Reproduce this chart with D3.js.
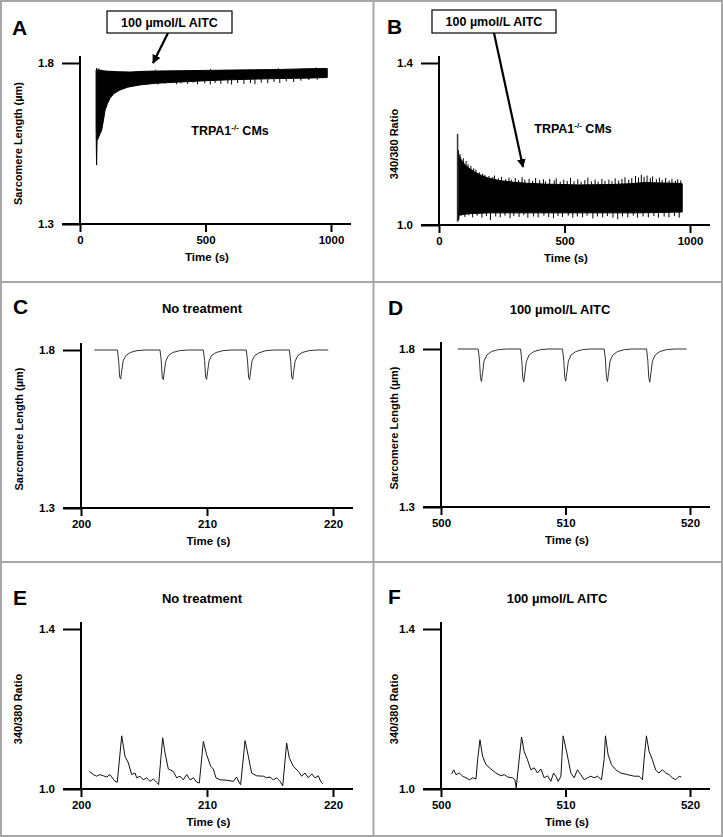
<!DOCTYPE html>
<html><head><meta charset="utf-8">
<script src="https://cdn.jsdelivr.net/npm/d3@7"></script>
<style>
body{margin:0;background:#fff}
text{font-family:"Liberation Sans",Arial,Helvetica,sans-serif;font-weight:bold;fill:#000}
</style>
</head><body>
<svg id="fig" width="723" height="837"></svg>
<script>
// ---------------- DATA ----------------
const annotationText = "100 \u00b5mol/L AITC";
const cellLabel = "TRPA1";
const cellSup = "-/-";
const cellTail = " CMs";
const titleNoTreat = "No treatment";
const titleAITC = "100 \u00b5mol/L AITC";
const labelSL = "Sarcomere Length (\u00b5m)";
const labelRatio = "340/380 Ratio";
const labelTime = "Time (s)";

const ticksLongTime = [0, 500, 1000];
const ticksTimeC = [200, 210, 220];
const ticksTimeD = [500, 510, 520];
const ticksSL = [1.3, 1.8];
const ticksRatio = [1.0, 1.4];

// Panel A: sarcomere length envelope (time s, length um)
const aUpper = [[64,1.778],[70,1.779],[100,1.775],[150,1.773],[200,1.772],[250,1.774],[300,1.775],[400,1.776],[500,1.777],[600,1.778],[700,1.779],[800,1.780],[900,1.782],[985,1.783]];
const aLower = [[64,1.60],[66,1.483],[68,1.56],[72,1.565],[80,1.58],[86,1.59],[93,1.62],[100,1.654],[110,1.675],[120,1.691],[135,1.705],[159,1.716],[190,1.725],[239,1.732],[300,1.737],[398,1.741],[500,1.745],[600,1.748],[700,1.750],[800,1.752],[900,1.753],[985,1.755]];
const aSpikesDown = [[228,1.733],[247,1.736],[268,1.734],[296,1.737],[311,1.733],[339,1.736],[357,1.738],[384,1.734],[402,1.737],[429,1.735],[451,1.739],[468,1.734],[497,1.737],[519,1.733],[538,1.738],[561,1.735],[589,1.736],[604,1.733],[628,1.738],[653,1.735],[679,1.737],[697,1.734],[722,1.739],[748,1.737],[773,1.741],[796,1.738],[822,1.743],[851,1.741],[880,1.745],[912,1.747],[945,1.748]];
const aSpikesUp = [[66,1.785],[75,1.783],[300,1.779],[520,1.781],[790,1.784],[940,1.786]];

// Panel B: Ca ratio envelope (time s, ratio)
const bFirstSpike = [[74,1.008],[74,1.225]];
const bUpper = [[76,1.185],[80,1.170],[90,1.160],[104,1.148],[120,1.140],[143,1.131],[170,1.122],[196,1.116],[240,1.110],[290,1.106],[350,1.103],[422,1.101],[555,1.099],[688,1.100],[760,1.102],[821,1.105],[870,1.104],[953,1.103],[969,1.102]];
const bLower = [[76,1.012],[80,1.025],[120,1.028],[200,1.030],[400,1.030],[600,1.030],[800,1.030],[969,1.032]];
const bSpikesUp = [[84,1.175],[97,1.165],[108,1.158],[116,1.150],[127,1.146],[138,1.140],[147,1.137],[161,1.130],[174,1.127],[183,1.124],[199,1.121],[214,1.118],[221,1.122],[237,1.115],[249,1.119],[266,1.113],[279,1.117],[288,1.112],[304,1.116],[317,1.111],[331,1.118],[342,1.112],[359,1.114],[373,1.109],[385,1.116],[401,1.111],[416,1.113],[424,1.108],[441,1.114],[459,1.110],[467,1.115],[483,1.107],[497,1.112],[511,1.109],[524,1.116],[538,1.108],[553,1.113],[566,1.107],[581,1.111],[593,1.117],[607,1.108],[622,1.112],[634,1.107],[649,1.114],[661,1.109],[677,1.112],[689,1.108],[702,1.115],[716,1.110],[729,1.114],[741,1.118],[756,1.112],[768,1.116],[783,1.121],[795,1.117],[806,1.124],[817,1.119],[829,1.122],[842,1.116],[851,1.120],[866,1.113],[878,1.117],[889,1.111],[903,1.116],[917,1.110],[928,1.114],[942,1.109],[951,1.113],[963,1.110]];
const bSpikesDown = [[79,1.012],[88,1.022],[103,1.020],[119,1.024],[134,1.019],[152,1.023],[171,1.018],[189,1.022],[205,1.012],[226,1.021],[244,1.019],[263,1.023],[283,1.017],[298,1.022],[319,1.020],[338,1.024],[354,1.018],[377,1.021],[395,1.019],[418,1.023],[437,1.020],[456,1.017],[474,1.022],[492,1.020],[515,1.023],[533,1.018],[551,1.021],[572,1.019],[590,1.023],[613,1.016],[631,1.021],[652,1.019],[671,1.022],[693,1.018],[712,1.014],[731,1.021],[752,1.019],[774,1.023],[791,1.018],[813,1.021],[834,1.019],[856,1.022],[874,1.018],[897,1.021],[916,1.019],[938,1.022],[957,1.018]];

// Panel C: sarcomere length, no treatment
const cTrace = [[201.06,1.8],
 [202.89,1.8],[202.99,1.765],[203.07,1.715],[203.15,1.708],[203.24,1.735],[203.34,1.765],[203.55,1.782],[203.90,1.792],[204.45,1.798],[205.10,1.8],
 [206.27,1.8],[206.37,1.765],[206.45,1.714],[206.53,1.706],[206.62,1.734],[206.72,1.764],[206.93,1.782],[207.28,1.792],[207.83,1.798],[208.48,1.8],
 [209.71,1.8],[209.81,1.766],[209.89,1.715],[209.97,1.707],[210.06,1.735],[210.16,1.765],[210.37,1.783],[210.72,1.792],[211.27,1.798],[211.92,1.8],
 [213.12,1.8],[213.22,1.765],[213.30,1.714],[213.38,1.706],[213.47,1.734],[213.57,1.765],[213.78,1.782],[214.13,1.791],[214.68,1.798],[215.33,1.8],
 [216.54,1.8],[216.64,1.765],[216.72,1.715],[216.80,1.707],[216.89,1.735],[216.99,1.764],[217.20,1.782],[217.55,1.792],[218.10,1.798],[218.75,1.8],
 [219.63,1.8]];

// Panel D: sarcomere length, 100 umol/L AITC
const dTrace = [[501.34,1.8],
 [502.99,1.8],[503.09,1.765],[503.17,1.710],[503.25,1.697],[503.34,1.725],[503.46,1.762],[503.68,1.781],[504.06,1.792],[504.61,1.798],[505.26,1.8],
 [506.39,1.8],[506.49,1.764],[506.57,1.709],[506.65,1.696],[506.74,1.724],[506.86,1.761],[507.08,1.781],[507.46,1.792],[508.01,1.798],[508.66,1.8],
 [509.76,1.8],[509.86,1.765],[509.94,1.711],[510.02,1.698],[510.11,1.726],[510.23,1.762],[510.45,1.781],[510.83,1.792],[511.38,1.798],[512.03,1.8],
 [513.11,1.8],[513.21,1.765],[513.29,1.710],[513.37,1.697],[513.46,1.725],[513.58,1.762],[513.80,1.781],[514.18,1.792],[514.73,1.798],[515.38,1.8],
 [516.51,1.8],[516.61,1.764],[516.69,1.709],[516.77,1.695],[516.86,1.724],[516.98,1.761],[517.20,1.781],[517.58,1.792],[518.13,1.798],[518.78,1.8],
 [519.73,1.8]];

// Panel E: 340/380 ratio, no treatment
const eTrace = [[200.66,1.044],[200.98,1.036],[201.24,1.032],[201.51,1.036],[201.77,1.033],[202.04,1.030],[202.30,1.036],[202.70,1.019],[202.88,1.017],
 [203.23,1.133],[203.49,1.082],[203.76,1.065],[204.02,1.036],[204.29,1.040],[204.42,1.028],[204.68,1.032],[204.95,1.023],[205.21,1.028],[205.48,1.019],[205.74,1.025],[206.06,1.015],[206.16,1.011],
 [206.48,1.128],[206.67,1.090],[206.93,1.050],[207.33,1.044],[207.59,1.028],[207.86,1.032],[208.12,1.023],[208.39,1.036],[208.65,1.023],[208.92,1.028],[209.18,1.017],[209.39,1.015],
 [209.71,1.119],[209.97,1.086],[210.29,1.057],[210.50,1.050],[210.71,1.028],[211.03,1.023],[211.56,1.022],[212.09,1.019],[212.35,1.030],[212.57,1.015],[212.67,1.011],
 [213.02,1.121],[213.28,1.082],[213.54,1.040],[213.94,1.033],[214.47,1.032],[214.74,1.028],[215.00,1.030],[215.26,1.023],[215.53,1.028],[215.79,1.019],[216.01,1.008],
 [216.32,1.115],[216.53,1.078],[216.85,1.057],[217.25,1.044],[217.51,1.032],[217.78,1.040],[218.04,1.028],[218.31,1.038],[218.57,1.028],[218.84,1.033],[219.02,1.019],[219.18,1.013]];

// Panel F: 340/380 ratio, 100 umol/L AITC
const fTrace = [[500.86,1.038],[501.02,1.048],[501.20,1.036],[501.47,1.040],[501.74,1.032],[502.01,1.028],[502.27,1.023],[502.54,1.028],[502.81,1.025],
 [502.94,1.073],[503.13,1.123],[503.34,1.082],[503.61,1.061],[504.01,1.050],[504.41,1.040],[504.81,1.033],[505.08,1.036],[505.35,1.030],[505.75,1.028],[505.94,1.023],[506.04,1.003],
 [506.47,1.130],[506.68,1.094],[506.95,1.073],[507.22,1.048],[507.49,1.053],[507.75,1.040],[508.02,1.050],[508.29,1.028],[508.56,1.033],[508.82,1.019],[509.04,1.040],[509.22,1.032],[509.41,1.019],[509.52,1.025],[509.63,1.032],
 [509.81,1.133],[510.11,1.090],[510.43,1.040],[510.70,1.028],[510.96,1.048],[511.23,1.036],[511.50,1.023],[511.76,1.028],[512.03,1.032],[512.30,1.028],[512.57,1.032],[512.89,1.023],[513.10,1.073],
 [513.21,1.133],[513.42,1.086],[513.69,1.061],[514.04,1.048],[514.44,1.040],[514.97,1.036],[515.51,1.032],[515.91,1.032],[516.18,1.023],[516.31,1.073],
 [516.50,1.133],[516.71,1.094],[516.98,1.073],[517.25,1.047],[517.51,1.040],[517.78,1.048],[518.05,1.040],[518.32,1.036],[518.58,1.028],[518.85,1.023],[519.12,1.032],[519.30,1.030]];

// ---------------- LAYOUT ----------------
const svg = d3.select("#fig");
svg.append("rect").attr("width",723).attr("height",837).attr("fill","#fff");

const panels = [
  {id:"A", xr:[80,331], yr:[224,63], xd:[0,1000], yd:[1.3,1.8], xt:ticksLongTime, yt:ticksSL, ylab:labelSL, ylx:18, lx:12, ly:35},
  {id:"B", xr:[439,690], yr:[225,63], xd:[0,1000], yd:[1.0,1.4], xt:ticksLongTime, yt:ticksRatio, ylab:labelRatio, ylx:394, lx:387, ly:34},
  {id:"C", xr:[81,333], yr:[508,350], xd:[200,220], yd:[1.3,1.8], xt:ticksTimeC, yt:ticksSL, ylab:labelSL, ylx:19, lx:13, ly:314, title:titleNoTreat, tx:202, ty:308},
  {id:"D", xr:[441,690], yr:[507,349], xd:[500,520], yd:[1.3,1.8], xt:ticksTimeD, yt:ticksSL, ylab:labelSL, ylx:394, lx:388, ly:315, title:titleAITC, tx:560, ty:309},
  {id:"E", xr:[81,333], yr:[789,629], xd:[200,220], yd:[1.0,1.4], xt:ticksTimeC, yt:ticksRatio, ylab:labelRatio, ylx:18, lx:13, ly:605, title:titleNoTreat, tx:202, ty:598},
  {id:"F", xr:[441,690], yr:[789,629], xd:[500,520], yd:[1.0,1.4], xt:ticksTimeD, yt:ticksRatio, ylab:labelRatio, ylx:394, lx:388, ly:604, title:titleAITC, tx:557, ty:598}
];

const P = {};
panels.forEach(p => {
  const x = d3.scaleLinear().domain(p.xd).range(p.xr);
  const y = d3.scaleLinear().domain(p.yd).range(p.yr);
  P[p.id] = {x, y, p};
  const g = svg.append("g");

  const xa = d3.axisBottom(x).tickValues(p.xt).tickSize(8).tickPadding(4).tickFormat(d3.format("d"));
  const gx = g.append("g").attr("transform",`translate(0,${p.yr[0]})`).call(xa);
  const ya = d3.axisLeft(y).tickValues(p.yt).tickSize(18).tickPadding(8).tickFormat(d3.format(".1f"));
  const gy = g.append("g").attr("transform",`translate(${p.xr[0]},0)`).call(ya);
  [gx,gy].forEach(a=>{
    a.select(".domain").remove();
    a.selectAll(".tick line").attr("stroke","#000").attr("stroke-width",2);
    a.selectAll(".tick text").attr("font-size","11.5px").attr("fill","#000")
      .style("font-family",'"Liberation Sans",Arial,sans-serif').style("font-weight","bold");
  });
  g.append("line").attr("x1",p.xr[0]-18).attr("x2",p.xr[1]+20).attr("y1",p.yr[0]).attr("y2",p.yr[0])
    .attr("stroke","#000").attr("stroke-width",2);
  g.append("line").attr("x1",p.xr[0]).attr("x2",p.xr[0]).attr("y1",p.yr[1]-7).attr("y2",p.yr[0]+1)
    .attr("stroke","#000").attr("stroke-width",2);

  g.append("text").attr("x",(p.xr[0]+p.xr[1])/2+1.5).attr("y",p.yr[0]+37)
    .attr("text-anchor","middle").attr("font-size","11.5px").text(labelTime);
  const ym = (p.yr[0]+p.yr[1])/2;
  g.append("text").attr("transform",`translate(${p.ylx+4},${ym}) rotate(-90)`)
    .attr("text-anchor","middle").attr("font-size","11px").text(p.ylab);
  g.append("text").attr("x",p.lx).attr("y",p.ly).attr("font-size","21px").text(p.id);
  if (p.title) g.append("text").attr("x",p.tx).attr("y",p.ty+4.5).attr("text-anchor","middle")
    .attr("font-size","13px").text(p.title);
});

function spikes(x, y, data, from){
  svg.append("g").selectAll("line").data(data).join("line")
    .attr("x1",d=>x(d[0])).attr("x2",d=>x(d[0])).attr("y1",y(from)).attr("y2",d=>y(d[1]))
    .attr("stroke","#000").attr("stroke-width",1);
}

// ---- Panel A trace
(function(){
  const {x,y} = P.A;
  const poly = aUpper.concat(aLower.slice().reverse());
  svg.append("path").attr("d", d3.line().x(d=>x(d[0])).y(d=>y(d[1]))(poly)+"Z").attr("fill","#000").attr("stroke","#000").attr("stroke-width",1);
  spikes(x, y, aSpikesDown, 1.76);
  spikes(x, y, aSpikesUp, 1.77);
})();

// ---- Panel B trace
(function(){
  const {x,y} = P.B;
  const poly = bUpper.concat(bLower.slice().reverse());
  svg.append("path").attr("d", d3.line().x(d=>x(d[0])).y(d=>y(d[1]))(poly)+"Z").attr("fill","#000").attr("stroke","#000").attr("stroke-width",1);
  svg.append("path").attr("d", d3.line().x(d=>x(d[0])).y(d=>y(d[1]))(bFirstSpike)).attr("stroke","#333").attr("stroke-width",1.5).attr("fill","none");
  spikes(x, y, bSpikesUp, 1.095);
  spikes(x, y, bSpikesDown, 1.035);
})();

// ---- C-F traces
[["C",cTrace,"#333"],["D",dTrace,"#333"],["E",eTrace,"#111"],["F",fTrace,"#111"]].forEach(([id,data,col])=>{
  const {x,y} = P[id];
  svg.append("path").datum(data)
    .attr("d", d3.line().x(d=>x(d[0])).y(d=>y(d[1])))
    .attr("fill","none").attr("stroke",col).attr("stroke-width",1).attr("stroke-linejoin","round");
});

// ---- annotations for A and B
const defs = svg.append("defs");
defs.append("marker").attr("id","ah").attr("viewBox","0 0 10 10").attr("refX",9).attr("refY",5)
  .attr("markerWidth",4).attr("markerHeight",4).attr("orient","auto")
  .append("path").attr("d","M0,0 L10,5 L0,10 Z").attr("fill","#000");

function annot(bx, by, bw, bh, ax1, ay1, ax2, ay2){
  svg.append("line").attr("x1",ax1).attr("y1",ay1).attr("x2",ax2).attr("y2",ay2)
    .attr("stroke","#000").attr("stroke-width",2.2).attr("marker-end","url(#ah)");
  svg.append("rect").attr("x",bx).attr("y",by).attr("width",bw).attr("height",bh)
    .attr("fill","#fff").attr("stroke","#000").attr("stroke-width",1.2);
  svg.append("text").attr("x",bx+bw/2).attr("y",by+bh/2+4.5).attr("text-anchor","middle")
    .attr("font-size","12.5px").text(annotationText);
}
annot(107, 11, 125, 22, 168, 33, 153, 63);
annot(432, 10, 124, 23, 494, 33, 523, 167);

function cellText(cx, cy){
  const t = svg.append("text").attr("x",cx).attr("y",cy+4.5).attr("text-anchor","middle").attr("font-size","12.5px");
  t.append("tspan").text(cellLabel);
  t.append("tspan").attr("dy",-5).attr("font-size","8px").text(cellSup);
  t.append("tspan").attr("dy",5).text(cellTail);
}
cellText(230, 130);
cellText(573, 128);

// ---- panel frame lines
const frame = svg.append("g").attr("stroke","#a6a6a6").attr("stroke-width",2).attr("fill","none");
frame.append("rect").attr("x",1).attr("y",1).attr("width",721).attr("height",835);
frame.append("line").attr("x1",373.5).attr("x2",373.5).attr("y1",0).attr("y2",837);
frame.append("line").attr("x1",0).attr("x2",723).attr("y1",282).attr("y2",282);
frame.append("line").attr("x1",0).attr("x2",723).attr("y1",562).attr("y2",562);
</script>
</body></html>
